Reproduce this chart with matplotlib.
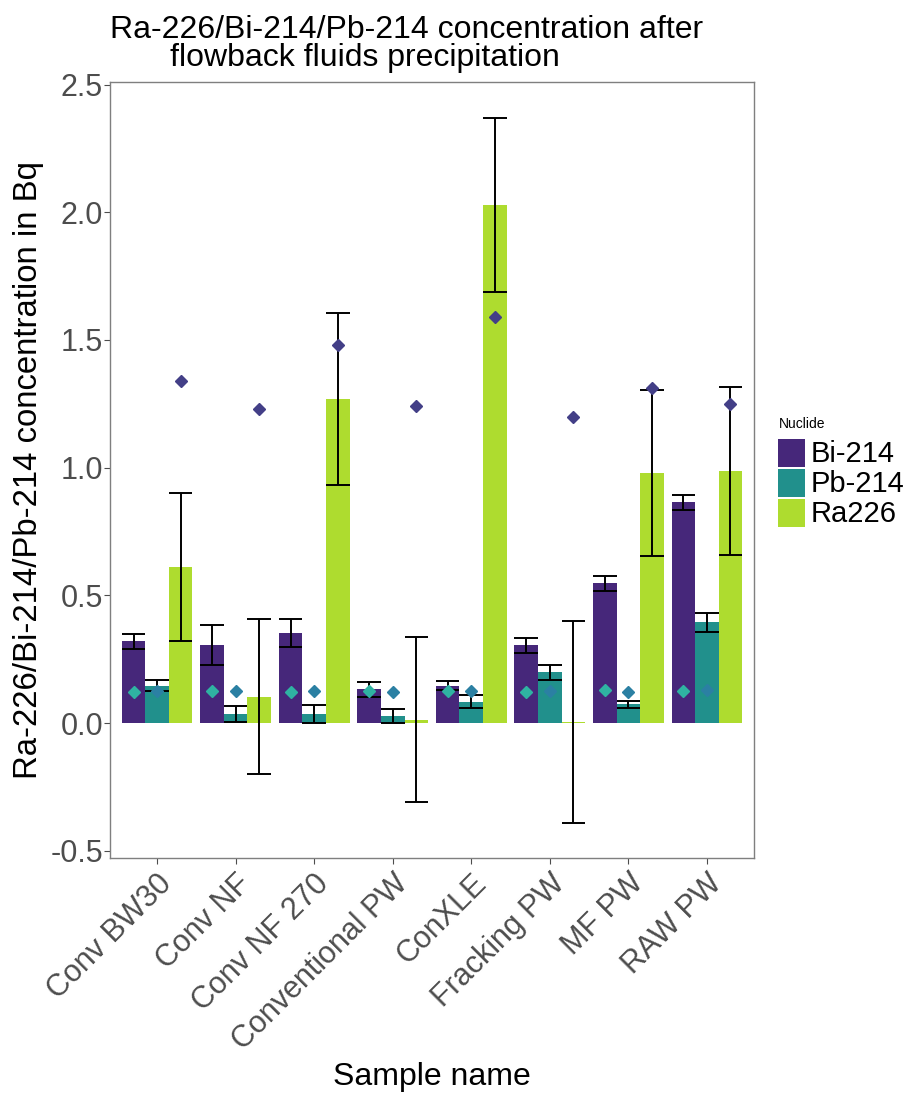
import numpy as np
import matplotlib
matplotlib.use('Agg')
import matplotlib.pyplot as plt
from matplotlib.patches import Rectangle

plt.rcParams['font.family'] = ['Liberation Sans', 'DejaVu Sans']

samples = ['Conv BW30', 'Conv NF', 'Conv NF 270', 'Conventional PW',
           'ConXLE', 'Fracking PW', 'MF PW', 'RAW PW']
nuclides = ['Bi-214', 'Pb-214', 'Ra226']

# bar heights (Bq)
bi_mean = [0.320, 0.306, 0.351, 0.132, 0.146, 0.304, 0.547, 0.865]
pb_mean = [0.146, 0.035, 0.035, 0.028, 0.084, 0.199, 0.074, 0.394]
ra_mean = [0.610, 0.104, 1.269, 0.014, 2.028, 0.004, 0.980, 0.986]

# error half widths
bi_err = [0.028, 0.079, 0.055, 0.030, 0.018, 0.028, 0.028, 0.029]
pb_err = [0.022, 0.030, 0.036, 0.028, 0.025, 0.029, 0.014, 0.037]
ra_err = [0.289, 0.304, 0.335, 0.322, 0.340, 0.397, 0.325, 0.329]

# diamond points
bi_pt = [0.123, 0.125, 0.121, 0.125, 0.124, 0.120, 0.128, 0.125]
pb_pt = [0.125, 0.125, 0.124, 0.123, 0.127, 0.125, 0.123, 0.128]
ra_pt = [1.338, 1.228, 1.479, 1.240, 1.589, 1.198, 1.312, 1.249]

fill_colors = ['#46277A', '#21908C', '#AEDC2F']
point_colors = ['#2FB3A2', '#2B80A3', '#433F87']

W, H = 911, 1096


def main():
    fig = plt.figure(figsize=(W / 100, H / 100), dpi=100)
    ax = fig.add_axes([0.1207, 0.2172, 0.7070, 0.7080])

    x = np.arange(len(samples))
    w = 0.3
    means = [bi_mean, pb_mean, ra_mean]
    errs = [bi_err, pb_err, ra_err]
    pts = [bi_pt, pb_pt, ra_pt]

    for i in range(3):
        xs = x + (i - 1) * w
        m = np.array(means[i])
        e = np.array(errs[i])
        ax.bar(xs, m, width=w, color=fill_colors[i], zorder=2)
        ax.vlines(xs, m - e, m + e, color='black', linewidth=1.4, zorder=3)
        ax.hlines(m - e, xs - w / 2, xs + w / 2, color='black', linewidth=1.4, zorder=3)
        ax.hlines(m + e, xs - w / 2, xs + w / 2, color='black', linewidth=1.4, zorder=3)
        ax.plot(xs, pts[i], linestyle='none', marker='D', markersize=6,
                color=point_colors[i], zorder=4)

    ax.set_xlim(-0.6, len(samples) - 0.4)
    ax.set_ylim(-0.528, 2.51)
    ax.set_yticks([-0.5, 0.0, 0.5, 1.0, 1.5, 2.0, 2.5])
    ax.set_yticklabels(['-0.5', '0.0', '0.5', '1.0', '1.5', '2.0', '2.5'])
    ax.set_xticks(x)
    ax.set_xticklabels(samples, rotation=45, ha='right', va='top',
                       rotation_mode='anchor')
    ax.tick_params(axis='both', labelsize=22, labelcolor='#4D4D4D', color='#4D4D4D',
                   length=4, width=0.8)
    ax.tick_params(axis='y', pad=1)
    for s in ax.spines.values():
        s.set_color('#7F7F7F')
        s.set_linewidth(1.0)

    ax.set_xlabel('Sample name', fontsize=23)
    ax.xaxis.set_label_coords(0.5, -(1077 - 858) / (0.7080 * H))
    ax.xaxis.label.set_va('center')
    ax.set_ylabel('Ra-226/Bi-214/Pb-214 concentration in Bq', fontsize=23.7)
    ax.yaxis.set_label_coords(-(110 - 29) / (0.7070 * W), 0.5)
    ax.yaxis.label.set_va('center')

    fig.text(110 / W, 1 - 30 / H, 'Ra-226/Bi-214/Pb-214 concentration after',
             fontsize=23, ha='left', va='center')
    fig.text(170 / W, 1 - 58 / H, 'flowback fluids precipitation',
             fontsize=23, ha='left', va='center')

    # legend drawn by hand to match the tight key layout
    fig.text(779 / W, 1 - 424 / H, 'Nuclide', fontsize=10, ha='left', va='center')
    for i, (lab, col) in enumerate(zip(nuclides, fill_colors)):
        top = 439 + i * 30
        fig.add_artist(Rectangle((778 / W, 1 - (top + 28) / H), 27 / W, 28 / H,
                                 transform=fig.transFigure, facecolor=col,
                                 edgecolor='none'))
        fig.text(811 / W, 1 - (top + 15) / H, lab, fontsize=21, ha='left',
                 va='center')

    fig.savefig('out.png', dpi=100)


if __name__ == '__main__':
    main()
